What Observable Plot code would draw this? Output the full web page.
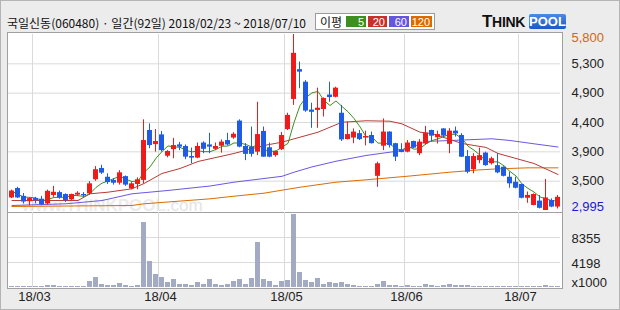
<!DOCTYPE html>
<html><head><meta charset="utf-8">
<script src="https://cdn.jsdelivr.net/npm/d3@7"></script>
<script src="https://cdn.jsdelivr.net/npm/@observablehq/plot@0.6"></script>
<style>
html,body{margin:0;padding:0;background:#ececec;}
#wrap{position:relative;width:620px;height:310px;background:#ececec;overflow:hidden;box-shadow:inset 0 0 0 1px #b4b4b4;}
.abs{position:absolute;}
#panel{left:7px;top:32px;width:556px;height:257px;box-sizing:border-box;border:1px solid #a0a0a0;background:#fff;}
#sep{left:7px;top:212px;width:556px;height:1px;background:#a0a0a0;}
#title{left:7px;top:15px;font:12px "Noto Sans CJK KR",sans-serif;color:#111;white-space:nowrap;line-height:15px;}
#legend{left:315px;top:13px;width:120px;height:17px;box-sizing:border-box;border:1px solid #9a9a9a;background:#fff;font:12px "Noto Sans CJK KR",sans-serif;}
#legend span{position:absolute;top:2px;height:11px;line-height:11px;color:#fff;text-align:right;font:11px "Liberation Sans",sans-serif;padding-right:2px;box-sizing:border-box;}
#logo{left:482px;top:12px;width:90px;height:18px;white-space:nowrap;}
#wm{left:22px;top:196px;font:bold 17px "Liberation Sans",sans-serif;color:#ececec;white-space:nowrap;}
svg{position:absolute;left:0;top:0;}
</style></head>
<body>
<div id="wrap">
  <div id="panel" class="abs"></div>
  <div id="wm" class="abs">www.THINKPOOL<span style="font-weight:normal;color:#e4e4e4">.com</span></div>
  <div id="sep" class="abs"></div>
  <div id="title" class="abs"></div>
  <div id="legend" class="abs"></div>
  <div id="logo" class="abs"></div>
</div>
<script>
// ---- data ----
const stockTitle = "국일신동(060480) · 일간(92일) 2018/02/23 ~ 2018/07/10";
const dates = ["02/23","02/26","02/27","02/28",
 "03/02","03/05","03/06","03/07","03/08","03/09","03/12","03/13","03/14","03/15","03/16","03/19","03/20","03/21","03/22","03/23","03/26","03/27","03/28","03/29","03/30",
 "04/02","04/03","04/04","04/05","04/06","04/09","04/10","04/11","04/12","04/13","04/16","04/17","04/18","04/19","04/20","04/23","04/24","04/25","04/26","04/27","04/30",
 "05/02","05/03","05/04","05/08","05/09","05/10","05/11","05/14","05/15","05/16","05/17","05/18","05/21","05/23","05/24","05/25","05/28","05/29","05/30","05/31",
 "06/01","06/04","06/05","06/07","06/08","06/11","06/12","06/14","06/15","06/18","06/19","06/20","06/21","06/22","06/25","06/26","06/27","06/28","06/29",
 "07/02","07/03","07/04","07/05","07/06","07/09","07/10"];
const open = [3195,3345,3220,3135,3185,3175,3100,3235,3280,3250, 3165,3240,3250,3260,3485,3665,3525,3475,3430,3535,
 3340,3410,3475,4270,4045,4200,3860,3965,4040,4015, 3855,3830,4070,4040,3970,4020,4110,4150,4420,4015,
 4005,3925,4255,3995,3870,3965,4285,4765,5240,5040, 4595,4590,4605,4835,4800,4545,4125,4150,4220,4150,
 4190,3540,4020,4245,4060,3960,3925,4095,3900,4055, 4270,4155,4295,4050,4260,4190,3855,3645,3790,3910,
 3740,3710,3685,3525,3445,3410,3190,3075,3145,2995, 3155,3050];
const high = [3320,3365,3265,3195,3205,3220,3320,3380,3305,3260, 3255,3295,3280,3455,3695,3715,3580,3505,3630,3545,
 3440,3515,4440,4375,4285,4255,3950,4145,4080,4040, 3990,4070,4090,4225,4070,4120,4225,4235,4440,4060,
 4325,4720,4325,4070,3940,4240,4545,5800,5360,5065, 4705,4945,4790,5040,4960,4670,4405,4295,4270,4260,
 4245,3765,4455,4250,4065,4060,4110,4100,4125,4335, 4275,4260,4300,4300,4325,4220,3950,3900,3990,3925,
 3845,3900,3690,3605,3525,3410,3290,3260,3235,3490, 3180,3235];
const low = [3185,3185,3100,3070,3100,3070,3080,3205,3175,3125, 3155,3220,3205,3240,3460,3570,3410,3400,3400,3380,
 3325,3325,3420,3980,3925,3925,3835,3820,3950,3805, 3740,3820,3900,3900,3950,3910,4025,4130,3995,3790,
 3845,3870,3845,3835,3845,3950,4270,4670,4935,4560, 4305,4305,4485,4720,4790,4095,4120,4060,4110,4025,
 4055,3365,3950,3990,3775,3915,3915,3980,3870,4040, 4085,4055,4150,3900,4165,3840,3580,3580,3740,3700,
 3720,3580,3530,3350,3340,3180,3110,3070,3020,2995, 3040,3020];
const close = [3305,3195,3130,3185,3155,3090,3300,3285,3195,3155, 3250,3270,3230,3420,3645,3590,3440,3430,3595,3400,
 3420,3485,4110,4030,4095,3950,3935,4030,4005,3845, 3830,4015,3970,4005,4015,4085,4040,4210,4005,3890,
 3890,4205,3845,3845,3935,4190,4510,5500,5200,4580, 4560,4625,4780,4795,4945,4120,4205,4245,4125,4175,
 4060,3740,4245,4030,3845,3920,4070,3990,4085,4225, 4180,4205,4180,4260,4215,3845,3605,3855,3870,3710,
 3820,3595,3540,3420,3350,3190,3235,3250,3030,3195, 3050,3205];
// volume, thousands of shares
const volume = [207,207,207,207,207,207,374,374,207,207, 207,207,207,1039,1704,540,374,374,706,374,
 207,374,10850,4365,2203,1704,872,1371,540,540, 374,872,540,1371,540,374,540,1039,1371,540,
 1538,7524,1371,1039,374,1039,1205,12180,2535,1205, 872,1538,540,872,706,872,540,374,207,207,
 207,540,1039,374,374,207,374,207,207,540, 374,207,374,540,374,374,374,207,207,207,
 207,207,207,207,207,207,207,207,207,374, 207,207];
// moving averages (index -> value)
const ma20Idx = [0,6,11,13,16,20,22,25,28,31,37,42,45,48,51,53,55,59,63,65,68,70,75,79,81,84,87,91];
const ma20Val = [3154,3154,3154,3261,3287,3341,3425,3585,3664,3776,3904,4031,4084,4163,4243,4323,4402,4425,4418,4376,4243,4222,4063,4000,3904,3824,3744,3569];
const ma60Idx = [0,9,15,20,26,33,37,45,47,50,54,59,65,66,69,76,80,83,87,91];
const ma60Val = [3075,3102,3154,3261,3314,3385,3446,3540,3605,3690,3780,3872,3951,3978,4095,4122,4138,4111,4058,4007];
const ma120Idx = [0,20,22,33,37,42,48,54,59,66,73,78,81,86,91];
const ma120Val = [3059,3075,3102,3181,3223,3271,3366,3446,3484,3542,3606,3643,3659,3675,3675];
// axes
const priceMax = 5800, priceMin = 2995;
const priceGrid = [5332.5, 4865, 4397.5, 3930, 3462.5];
const priceLabels = ["5,300","4,900","4,400","3,900","3,500"];
const volMin = 41, volMax = 12512;
const volGrid = [8355, 4198];
const volLabels = ["8355","4198"];
const monthDates = ["03/02","04/02","05/02","06/01","07/02"];
const monthLabels = ["18/03","18/04","18/05","18/06","18/07"];
const legendItems = ["5","20","60","120"];

// ---- colours ----
const UP = "#ee1b1b", DOWN = "#1f5be4";
const C5 = "#3d8f1f", C20 = "#b83a36", C60 = "#6a58e4", C120 = "#dd6c00";

const candles = dates.map((d, i) => ({date: d, open: open[i], high: high[i], low: low[i], close: close[i], vol: volume[i]}));
const ma = (idx, val) => idx.map((k, j) => ({date: dates[k], v: val[j]}));

const xScale = {type: "band", domain: dates, range: [8.5, 560.5], paddingInner: 1/6, paddingOuter: 1/12, align: 0.5, round: false, axis: null};
const font = {fontFamily: "Liberation Sans, sans-serif", fontSize: "13px", background: "transparent", overflow: "visible"};
const gridC = "#dadada";

const price = Plot.plot({
  width: 620, height: 310, marginTop: 34, marginBottom: 100, marginLeft: 8, marginRight: 60,
  style: font,
  x: xScale,
  y: {domain: [priceMin, priceMax], axis: null},
  marks: [
    Plot.ruleY(priceGrid, {stroke: gridC}),
    Plot.ruleX(monthDates, {stroke: gridC, dx: -3.5}),
    Plot.line(ma(ma120Idx, ma120Val), {x: "date", y: "v", stroke: C120, strokeWidth: 1}),
    Plot.line(ma(ma60Idx, ma60Val), {x: "date", y: "v", stroke: C60, strokeWidth: 1}),
    Plot.line(ma(ma20Idx, ma20Val), {x: "date", y: "v", stroke: C20, strokeWidth: 1}),
    Plot.lineY(candles, Plot.windowY({k: 5, anchor: "end", reduce: "mean"}, {x: "date", y: "close", stroke: C5, strokeWidth: 1})),
    Plot.ruleX(candles, {x: "date", y1: "low", y2: "high", stroke: d => d.close >= d.open ? UP : DOWN, dx: -0.5}),
    Plot.barY(candles, {x: "date", y1: "open", y2: "close", fill: d => d.close >= d.open ? UP : DOWN}),
    Plot.text(priceGrid, {y: d => d, text: (d, i) => priceLabels[i], frameAnchor: "right", textAnchor: "start", dx: 11, fill: "#222"}),
    Plot.text([priceMax], {y: d => d, text: d => d3.format(",")(d), frameAnchor: "right", textAnchor: "start", dx: 11, dy: 3.5, fill: "#cc6a10"}),
    Plot.text([priceMin], {y: d => d, text: d => d3.format(",")(d), frameAnchor: "right", textAnchor: "start", dx: 11, dy: -3.5, fill: "#1a1ad0"})
  ]
});

const vol = Plot.plot({
  width: 620, height: 310, marginTop: 212, marginBottom: 23, marginLeft: 8, marginRight: 60,
  style: font,
  x: xScale,
  y: {domain: [volMin, volMax], axis: null},
  marks: [
    Plot.ruleY(volGrid, {stroke: gridC}),
    Plot.ruleX(monthDates, {stroke: gridC, dx: -3.5}),
    Plot.barY(candles, {x: "date", y1: volMin, y2: "vol", fill: "#a2abc3"}),
    Plot.text(volGrid, {y: d => d, text: (d, i) => volLabels[i], frameAnchor: "right", textAnchor: "start", dx: 11, dy: 1, fill: "#222"}),
    Plot.text(["x1000"], {text: d => d, frameAnchor: "bottom-right", textAnchor: "start", dx: 11, dy: -1, fill: "#222"}),
    Plot.text(monthDates, {x: d => d, text: (d, i) => monthLabels[i], frameAnchor: "bottom", dy: 13, dx: -1.5, fill: "#222"})
  ]
});

const wrap = document.getElementById("wrap");
wrap.appendChild(price);
wrap.appendChild(vol);

document.getElementById("title").textContent = stockTitle;

const lg = document.getElementById("legend");
const lab = document.createElement("div");
lab.textContent = "이평";
lab.style.cssText = "position:absolute;left:4px;top:0px;line-height:15px;color:#111;";
lg.appendChild(lab);
const legendColors = [C5, "#c8302c", "#6655de", "#dd6a00"];
const legendLeft = [30, 52, 73, 95];
const legendW = [20, 19, 20, 21];
legendItems.forEach((t, i) => {
  const s = document.createElement("span");
  s.textContent = t;
  s.style.left = legendLeft[i] + "px";
  s.style.width = legendW[i] + "px";
  s.style.background = legendColors[i];
  lg.appendChild(s);
});

document.getElementById("logo").innerHTML =
  '<span style="position:absolute;left:0;top:0px;font:bold 17px \'Liberation Sans\',sans-serif;color:#111;letter-spacing:-0.3px">T<span style="font-size:14px">HINK</span></span>' +
  '<span style="position:absolute;left:47px;top:2px;width:37px;height:15px;background:linear-gradient(#4a8ae8,#1d58c8);border-radius:2px;color:#fff;font:bold 13px \'Liberation Sans\',sans-serif;line-height:15px;text-align:center">POOL</span>';
</script>
</body></html>
